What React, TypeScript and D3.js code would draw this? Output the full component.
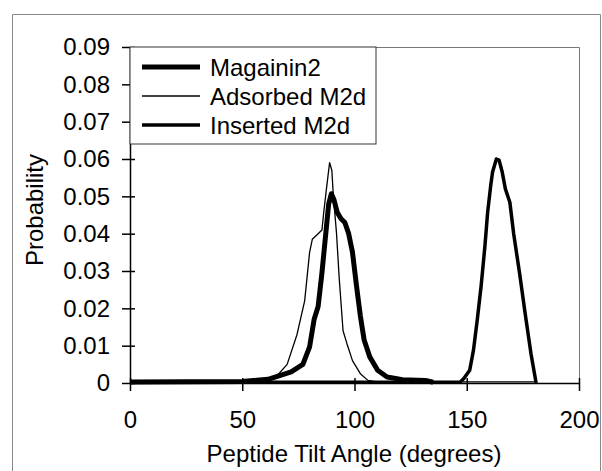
import * as d3 from 'd3'
import { useEffect, useRef } from 'react'

// tilt angle (degrees) and probability for each peptide
const magaininAngle = [0, 50, 61.5, 71.8, 77, 80, 82, 83.8, 85.5, 87.2, 88.5, 89.7, 90.9, 92.3, 94, 95.7, 97.4, 99.1, 100.9, 102.6, 104.3, 106.8, 110.3, 114.5, 121.4, 131.6, 135]
const magaininProb = [0.0003, 0.0004, 0.001, 0.003, 0.005, 0.0097, 0.017, 0.0205, 0.0295, 0.040, 0.048, 0.0507, 0.049, 0.0457, 0.044, 0.043, 0.040, 0.035, 0.026, 0.018, 0.0115, 0.007, 0.0034, 0.0016, 0.0009, 0.0007, 0.0002]

const adsorbedAngle = [0, 55, 61.5, 65, 70, 74.4, 77.8, 80, 81.2, 83.8, 85.5, 86.3, 87.5, 88.9, 89.9, 90.6, 92, 93.2, 94.9, 96.6, 99.1, 102.6, 106, 110, 180]
const adsorbedProb = [0.0002, 0.0002, 0.0006, 0.0016, 0.005, 0.013, 0.022, 0.035, 0.0385, 0.040, 0.041, 0.0457, 0.052, 0.059, 0.057, 0.050, 0.040, 0.028, 0.014, 0.0106, 0.006, 0.0025, 0.0007, 0.0003, 0.0003]

const insertedAngle = [0, 147, 148.7, 151.3, 153, 154.7, 156.4, 158.1, 159.3, 160.7, 161.5, 163.2, 164.4, 165.8, 167.2, 169.2, 170.9, 173.5, 176, 178.6, 180.9]
const insertedProb = [0.0002, 0.0002, 0.0012, 0.0034, 0.0088, 0.017, 0.026, 0.0367, 0.0457, 0.053, 0.0565, 0.060, 0.0597, 0.0565, 0.052, 0.0484, 0.040, 0.0295, 0.0187, 0.0079, 0]

const xTicks = [0, 50, 100, 150, 200]
const yTicks = [0, 0.01, 0.02, 0.03, 0.04, 0.05, 0.06, 0.07, 0.08, 0.09]
const seriesNames = ['Magainin2', 'Adsorbed M2d', 'Inserted M2d']

export default function App() {
    const svgRef = useRef<SVGSVGElement>(null)

    useEffect(() => {
        makeChart()
    }, [])

    function makeChart() {
        const width = 602
        const height = 471
        const left = 130, right = 579, top = 47, bottom = 383
        const font = '"Liberation Sans", Arial, sans-serif'
        const fs = 24

        const svg = d3.select(svgRef.current).attr('width', width).attr('height', height)
        svg.selectAll('*').remove()
        svg.append('rect').attr('width', width).attr('height', height).attr('fill', 'white')

        // outer chart frame
        svg.append('path').attr('d', `M12.5,${height} V14.5 H600.5 V${height}`)
            .attr('fill', 'none').attr('stroke', '#888').attr('stroke-width', 1)

        const x = d3.scaleLinear().domain([0, 200]).range([left, right])
        const y = d3.scaleLinear().domain([0, 0.09]).range([bottom, top])

        // plot area border (top/right)
        svg.append('path').attr('d', `M${left},${top + 0.5} H${right + 0.5} V${bottom}`)
            .attr('fill', 'none').attr('stroke', '#777').attr('stroke-width', 1)

        const series = [
            { a: magaininAngle, p: magaininProb, w: 5 },
            { a: adsorbedAngle, p: adsorbedProb, w: 1.3 },
            { a: insertedAngle, p: insertedProb, w: 3.5 },
        ]
        series.forEach(s => {
            const line = d3.line<number>().x((_, i) => x(s.a[i])).y(d => y(d)).curve(d3.curveLinear)
            svg.append('path').attr('d', line(s.p)).attr('fill', 'none')
                .attr('stroke', '#000').attr('stroke-width', s.w).attr('stroke-linejoin', 'round')
        })

        // axes with cross ticks
        const yAxis = d3.axisLeft(y).tickValues(yTicks).tickSize(8).tickSizeOuter(0)
            .tickFormat(d => d === 0 ? '0' : d3.format('.2f')(d as number))
        const gy = svg.append('g').attr('transform', `translate(${left},0)`).call(yAxis)
        gy.selectAll('line').clone().attr('x2', 5)
        const xAxis = d3.axisBottom(x).tickValues(xTicks).tickSize(8).tickSizeOuter(0)
        const gx = svg.append('g').attr('transform', `translate(0,${bottom})`).call(xAxis)
        gx.selectAll('line').clone().attr('y2', -5)
        for (const g of [gx, gy]) {
            g.selectAll('line, path').attr('stroke', '#000').attr('stroke-width', 1.5)
            g.selectAll('text').attr('font-family', font).attr('font-size', fs).attr('fill', '#000')
        }
        gy.selectAll('text').attr('x', -20)
        gx.selectAll('text').attr('y', 28)

        // legend
        const lg = svg.append('g')
        lg.append('rect').attr('x', left).attr('y', top).attr('width', 246).attr('height', 97)
            .attr('fill', 'white').attr('stroke', '#333').attr('stroke-width', 1)
        seriesNames.forEach((name, i) => {
            const ly = 67 + i * 29
            lg.append('line').attr('x1', 142).attr('x2', 200).attr('y1', ly).attr('y2', ly)
                .attr('stroke', '#000').attr('stroke-width', series[i].w)
            lg.append('text').attr('x', 210).attr('y', ly).attr('dy', '0.36em')
                .attr('font-family', font).attr('font-size', fs).text(name)
        })

        svg.append('text').attr('x', 354).attr('y', 462).attr('text-anchor', 'middle')
            .attr('font-family', font).attr('font-size', fs).text('Peptide Tilt Angle (degrees)')
        svg.append('text').attr('transform', `translate(43,${(top + bottom) / 2 - 5}) rotate(-90)`)
            .attr('text-anchor', 'middle').attr('font-family', font).attr('font-size', fs).text('Probability')
    }

    return <svg ref={svgRef} style={{ position: 'absolute', left: 0, top: 0 }}></svg>
}
